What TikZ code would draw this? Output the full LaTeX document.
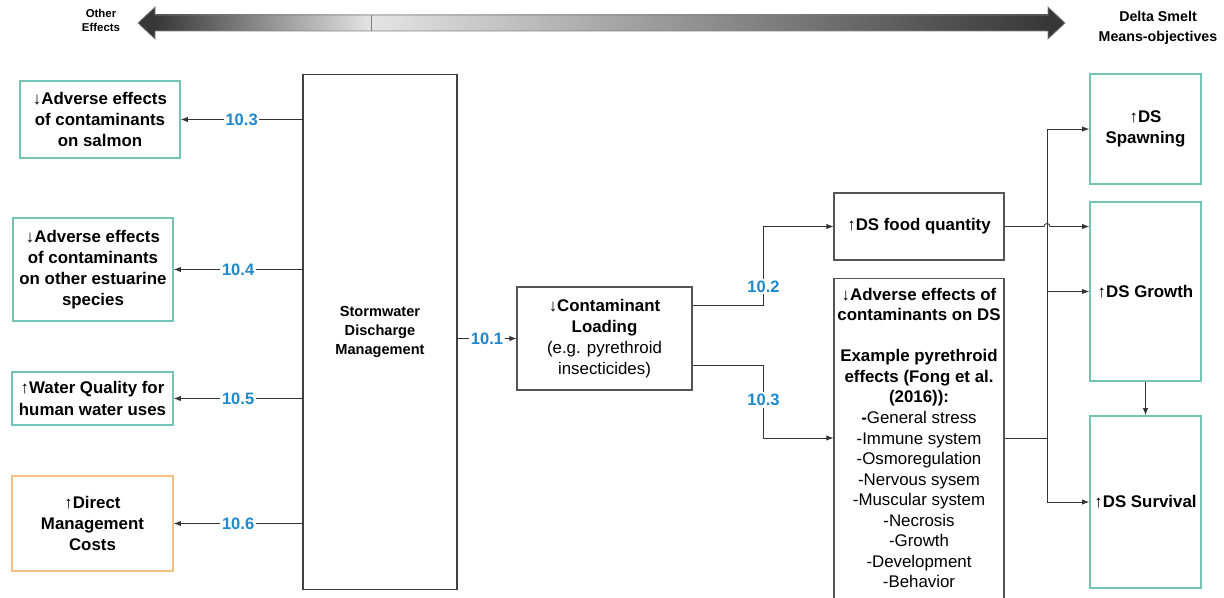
\documentclass[tikz,border=0pt]{standalone}
\usepackage{fontspec}
\setmainfont{Liberation Sans}
\usepackage{tikz}
\usetikzlibrary{arrows.meta}
\definecolor{keppel}{RGB}{115,196,180}
\definecolor{macaroni}{RGB}{246,190,130}
\definecolor{honolulublue}{RGB}{30,136,204}
\definecolor{davysgrey}{RGB}{85,85,85}
\definecolor{bardark}{RGB}{55,55,55}
\definecolor{barmid}{RGB}{195,195,195}
\definecolor{barmidr}{RGB}{170,170,170}
\definecolor{barlight}{RGB}{228,228,228}
\tikzset{box/.style = {draw, line width=0.6pt, align=center, inner sep=0pt, font=\fontsize{9.6}{12}\selectfont}}
\tikzset{boldtext/.style = {font=\fontsize{9.6}{12}\selectfont\bfseries}}
\tikzset{tealbox/.style = {box, boldtext, draw=keppel, line width=0.9pt}}
\tikzset{orangebox/.style = {box, boldtext, draw=macaroni, line width=0.9pt}}
\tikzset{graybox/.style = {box, draw=davysgrey}}
\tikzset{lbl/.style = {fill=white, inner sep=1pt, text=honolulublue, font=\fontsize{9.4}{11}\selectfont\bfseries}}
\tikzset{arr/.style = {line width=0.5pt, color=black!80, -{Latex[length=4pt,width=3pt]}}}
\newcommand{\arrup}{↑}
\newcommand{\arrdown}{↓}

\begin{document}
\begin{tikzpicture}[x=0.02cm, y=-0.02cm]
		\useasboundingbox (0,0) rectangle (1224,598);
		
		% Scale Arrow
		\shade[left color=bardark, middle color=barmid, right color=barlight] (155,15) rectangle (371,31);
		\shade[left color=barlight, middle color=barmidr, right color=bardark] (371,15) rectangle (1048,31);
		\fill[bardark] (155,7) -- (138,23) -- (155,39) -- cycle;
		\fill[bardark] (1048,7) -- (1065,23) -- (1048,39) -- cycle;
		\draw[line width=0.4pt, color=gray] (138,23) -- (155,7) -- (155,15) -- (1048,15) -- (1048,7) -- (1065,23) -- (1048,39) -- (1048,31) -- (155,31) -- (155,39) -- cycle;
		\draw[line width=0.4pt, color=gray] (371,15) -- (371,31);
		\node[align=center, font=\fontsize{6.5}{8}\selectfont\bfseries] (other) at (101,20) {Other\\Effects};
		\node[align=center, font=\fontsize{8.1}{11.3}\selectfont\bfseries] (dsmo) at (1158,28) {Delta Smelt\\Means-objectives};
		
		% Other Effects
		\node[tealbox, minimum width=3.2cm, minimum height=1.54cm] (sal) at (100,119.5) {\arrdown Adverse effects\\of contaminants\\on salmon};
		\node[tealbox, minimum width=3.2cm, minimum height=2.06cm] (est) at (93,269.5) {\arrdown Adverse effects\\of contaminants\\on other estuarine\\species};
		\node[tealbox, minimum width=3.22cm, minimum height=1.06cm] (wq) at (92.5,398.5) {\arrup Water Quality for\\human water uses};
		\node[orangebox, minimum width=3.22cm, minimum height=1.9cm] (cost) at (92.5,523.5) {\arrup Direct\\Management\\Costs};
		
		% Management
		\node[graybox, draw=black!75, minimum width=3.08cm, minimum height=10.32cm, font=\fontsize{8.3}{11}\selectfont\bfseries] (swd) at (380,332) {Stormwater\\Discharge\\Management};
		\node[graybox, minimum width=3.5cm, minimum height=2.06cm] (load) at (604.5,338.5) {\textbf{\arrdown Contaminant}\\\textbf{Loading}\\(e.g. pyrethroid\\insecticides)};
		
		% Delta Smelt
		\node[graybox, boldtext, minimum width=3.4cm, minimum height=1.34cm] (food) at (919,226.5) {\arrup DS food quantity};
		\node[graybox, minimum width=3.4cm, minimum height=8cm, anchor=north] (adv) at (919,278) {};
		\node[align=center, inner sep=0pt, font=\fontsize{9.6}{11.7}\selectfont] (advtxt) at (919,438) {\textbf{\arrdown Adverse effects of}\\\textbf{contaminants on DS}\\[11.7pt]\textbf{Example pyrethroid}\\\textbf{effects (Fong et al.}\\\textbf{(2016)):}\\\textbf{-}General stress\\-Immune system\\-Osmoregulation\\-Nervous sysem\\-Muscular system\\-Necrosis\\-Growth\\-Development\\-Behavior};
		
		%% Means-objectives
		\node[tealbox, minimum width=2.22cm, minimum height=2.2cm] (spawn) at (1145.5,129) {\arrup DS\\Spawning};
		\node[tealbox, minimum width=2.22cm, minimum height=3.58cm] (grow) at (1145.5,291.5) {\arrup DS Growth};
		\node[tealbox, minimum width=2.22cm, minimum height=3.44cm] (surv) at (1145.5,502) {\arrup DS Survival};
		
		% Connectors
		\draw[arr] (swd.west |- sal.east) -- (sal.east) node[lbl, midway] {10.3};
		\draw[arr] (swd.west |- est.east) -- (est.east) node[lbl, midway] {10.4};
		\draw[arr] (swd.west |- wq.east) -- (wq.east) node[lbl, midway] {10.5};
		\draw[arr] (swd.west |- cost.east) -- (cost.east) node[lbl, midway] {10.6};
		\draw[arr] (swd.east |- load.west) -- (load.west) node[lbl, midway] {10.1};
		\draw[arr] ([yshift=0.66cm]load.east) -- ++(71,0) |- (food.west) node[lbl, pos=0.12] {10.2};
		\draw[arr] ([yshift=-0.53cm]load.east) -- ++(71,0) |- (adv.west |- advtxt.center) node[lbl, pos=0.24] {10.3};
		
		%% Bus
		\coordinate (bus) at (1047,438);
		\draw[line width=0.5pt, color=black!80] (adv.east |- advtxt.center) -- (bus);
		\draw[arr] (bus) |- (spawn.west);
		\draw[arr] (bus) |- (surv.west);
		\draw[arr] (bus |- grow.west) -- (grow.west);
		\draw[arr] (food.east) -- (1044,226.5) arc[start angle=180, end angle=360, radius=3] -- (grow.west |- food.east);
		\draw[arr] (grow.south) -- (surv.north);
	\end{tikzpicture}
\end{document}
